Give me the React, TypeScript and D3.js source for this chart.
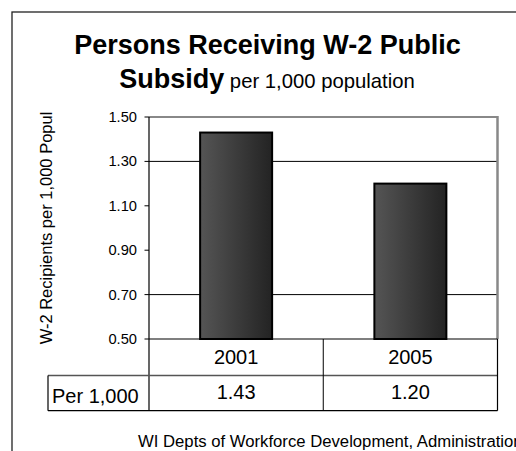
import React from 'react';
import * as d3 from 'd3';

const categories = ['2001', '2005'];
const values = [1.43, 1.2];
const yTicks = [0.5, 0.7, 0.9, 1.1, 1.3, 1.5];
const gridValues = [0.7, 1.3];
const rowLabel = 'Per 1,000';
const titleLine1 = 'Persons Receiving W-2 Public';
const titleBold2 = 'Subsidy';
const titleSub = 'per 1,000 population';
const yAxisTitle = 'W-2 Recipients per 1,000 Popul';
const sourceText = 'WI Depts of Workforce Development, Administration';

const W = 516;
const H = 451;
const FONT = "'Liberation Sans', Arial, Helvetica, sans-serif";

export default function App() {
  const plotLeft = 149;
  const plotRight = 497.5;
  const plotTop = 117;
  const plotBottom = 339;
  const row1Bottom = 375.5;
  const row2Bottom = 410.7;
  const labelColLeft = 48;

  const x = d3.scaleBand<string>().domain(categories).range([plotLeft, plotRight]).paddingInner(0).paddingOuter(0);
  const y = d3.scaleLinear().domain([0.5, 1.5]).range([plotBottom, plotTop]);
  const barW = 72;
  const fmt = d3.format('.2f');

  return (
    <svg width={W} height={H} style={{ position: 'absolute', left: 0, top: 0, background: '#fff' }} fontFamily={FONT}>
      <defs>
        <linearGradient id="barGrad" x1="0" x2="1" y1="0" y2="0">
          <stop offset="0%" stopColor="#555555" />
          <stop offset="100%" stopColor="#232323" />
        </linearGradient>
      </defs>
      <rect x={0} y={0} width={W} height={H} fill="#fff" />
      {/* outer chart border */}
      <rect x={12} y={12} width={W + 20} height={H + 20} fill="none" stroke="#222" strokeWidth={1.3} />

      {/* title */}
      <text x={267.5} y={54} textAnchor="middle" fontWeight="bold" fontSize={27} fill="#000">{titleLine1}</text>
      <text x={267} y={88} textAnchor="middle" fill="#000">
        <tspan fontWeight="bold" fontSize={27}>{titleBold2}</tspan>
        <tspan fontSize={20.3}> {titleSub}</tspan>
      </text>

      {/* gridlines */}
      {gridValues.map((v) => (
        <line key={'g' + v} x1={plotLeft} x2={plotRight} y1={y(v)} y2={y(v)} stroke="#000" strokeWidth={1} />
      ))}

      {/* plot area border (top/right grey) */}
      <line x1={plotLeft} x2={plotRight} y1={plotTop} y2={plotTop} stroke="#888" strokeWidth={2} />
      <line x1={plotRight} x2={plotRight} y1={plotTop - 1} y2={plotBottom} stroke="#888" strokeWidth={2.5} />

      {/* bars */}
      {categories.map((c, i) => {
        const cx = (x(c) as number) + x.bandwidth() / 2;
        return (
          <rect
            key={'b' + c}
            x={cx - barW / 2}
            y={y(values[i])}
            width={barW}
            height={plotBottom - y(values[i])}
            fill="url(#barGrad)"
            stroke="#000"
            strokeWidth={2}
          />
        );
      })}

      {/* y axis */}
      <line x1={plotLeft} x2={plotLeft} y1={plotTop} y2={row2Bottom} stroke="#000" strokeWidth={1.2} />
      {yTicks.map((t) => (
        <g key={'t' + t}>
          <line x1={plotLeft - 4.5} x2={plotLeft} y1={y(t)} y2={y(t)} stroke="#000" strokeWidth={1} />
          <text x={137} y={y(t) + 5} textAnchor="end" fontSize={14.7} fill="#000">{fmt(t)}</text>
        </g>
      ))}
      <text
        transform={`translate(52,${(plotTop + plotBottom) / 2}) rotate(-90)`}
        textAnchor="middle"
        fontSize={16.5}
        fill="#000"
      >
        {yAxisTitle}
      </text>

      {/* data table */}
      <line x1={plotLeft} x2={plotRight} y1={plotBottom} y2={plotBottom} stroke="#000" strokeWidth={1.2} />
      <line x1={labelColLeft} x2={plotRight} y1={row1Bottom} y2={row1Bottom} stroke="#555" strokeWidth={1.5} />
      <line x1={labelColLeft} x2={plotRight} y1={row2Bottom} y2={row2Bottom} stroke="#000" strokeWidth={1.2} />
      <line x1={labelColLeft} x2={labelColLeft} y1={row1Bottom} y2={row2Bottom} stroke="#000" strokeWidth={1.2} />
      <line x1={plotRight} x2={plotRight} y1={plotBottom} y2={row2Bottom} stroke="#000" strokeWidth={1.2} />
      {categories.slice(1).map((c) => (
        <line key={'d' + c} x1={x(c) as number} x2={x(c) as number} y1={plotBottom} y2={row2Bottom} stroke="#000" strokeWidth={1} />
      ))}
      {categories.map((c, i) => {
        const cx = (x(c) as number) + x.bandwidth() / 2;
        return (
          <g key={'c' + c}>
            <text x={cx} y={364} textAnchor="middle" fontSize={20} fill="#000">{c}</text>
            <text x={cx} y={399} textAnchor="middle" fontSize={20} fill="#000">{fmt(values[i])}</text>
          </g>
        );
      })}
      <text x={52} y={402.5} fontSize={20} fill="#000">{rowLabel}</text>

      {/* source */}
      <text x={138} y={447} fontSize={16.7} fill="#000">{sourceText}</text>
    </svg>
  );
}
